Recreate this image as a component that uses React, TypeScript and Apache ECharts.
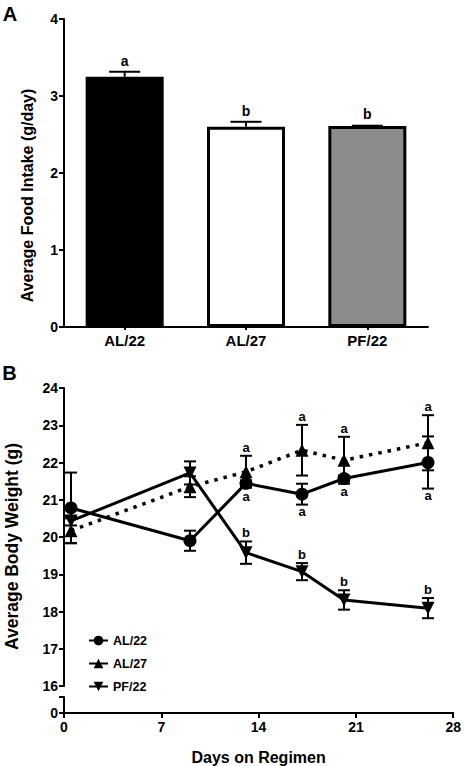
import React, { useEffect, useRef } from 'react';
import * as echarts from 'echarts';

// ---- Panel A data ----
const groups = ['AL/22', 'AL/27', 'PF/22'];
const foodMean = [3.25, 2.6, 2.61];
const foodSem = [0.065, 0.065, 0.004];
const foodLetters = ['a', 'b', 'b'];
const barFill = ['#000000', '#ffffff', '#8c8c8c'];

// ---- Panel B data ----
const days = [0.5, 9, 13, 17, 20, 26];
const al22Mean = [20.78, 19.9, 21.44, 21.15, 21.57, 22.0];
const al22Sem = [0.95, 0.27, 0.08, 0.28, 0.08, 0.7];
const al22Letters = ['', '', 'a', 'a', 'a', 'a'];
const al27Mean = [20.17, 21.35, 21.75, 22.33, 22.06, 22.53];
const al27Sem = [0.33, 0.28, 0.43, 0.68, 0.63, 0.74];
const al27Letters = ['', '', 'a', 'a', 'a', 'a'];
const pf22Mean = [20.43, 21.72, 19.58, 19.07, 18.31, 18.09];
const pf22Sem = [0.12, 0.31, 0.3, 0.23, 0.26, 0.27];
const pf22Letters = ['', '', 'b', 'b', 'b', 'b'];

const FONT = '"Liberation Sans", Arial, Helvetica, sans-serif';

function textEl(text: string, x: number, y: number, size: number, va: string) {
  return {
    type: 'text',
    x,
    y,
    style: {
      text,
      fill: '#000',
      fontSize: size,
      fontWeight: 'bold',
      fontFamily: FONT,
      align: 'center',
      verticalAlign: va,
      textAlign: 'center',
      textVerticalAlign: va,
    },
  };
}

function titleEl(text: string, x: number, y: number, size: number, rotation: number) {
  return {
    type: 'text',
    x,
    y,
    rotation,
    style: {
      text,
      fill: '#000',
      fontSize: size,
      fontWeight: 'bold',
      fontFamily: FONT,
      align: 'center',
      verticalAlign: 'middle',
      textAlign: 'center',
      textVerticalAlign: 'middle',
    },
  };
}

function errSeriesB(mean: number[], sem: number[], letters: string[], pos: 'above' | 'below') {
  return {
    type: 'custom',
    xAxisIndex: 1,
    yAxisIndex: 1,
    z: 1,
    silent: true,
    data: days.map((d, i) => [d, mean[i], sem[i]]),
    encode: { x: 0, y: 1 },
    renderItem: (params: any, api: any) => {
      const x = api.value(0);
      const m = api.value(1);
      const s = api.value(2);
      const c = api.coord([x, m]);
      const hi = api.coord([x, m + s]);
      const lo = api.coord([x, m - s]);
      const cw = 6;
      const st = { stroke: '#000', lineWidth: 2 };
      const children: any[] = [
        { type: 'line', shape: { x1: c[0], y1: hi[1], x2: c[0], y2: lo[1] }, style: st },
        { type: 'line', shape: { x1: c[0] - cw, y1: hi[1], x2: c[0] + cw, y2: hi[1] }, style: st },
        { type: 'line', shape: { x1: c[0] - cw, y1: lo[1], x2: c[0] + cw, y2: lo[1] }, style: st },
      ];
      const t = letters[params.dataIndex];
      if (t) {
        if (pos === 'above') {
          children.push(textEl(t, c[0], Math.min(hi[1], c[1] - 6.5) - 2, 13, 'bottom'));
        } else {
          children.push(textEl(t, c[0], Math.max(lo[1], c[1] + 6.5), 13, 'top'));
        }
      }
      return { type: 'group', children };
    },
  };
}

const axisLineStyle = { color: '#000', width: 2 };
const labelStyle = (size: number) => ({
  color: '#000',
  fontWeight: 'bold',
  fontSize: size,
  fontFamily: FONT,
});

export default function App() {
  const ref = useRef<HTMLDivElement>(null);

  useEffect(() => {
    document.body.style.margin = '0';
    if (!ref.current) return;
    const chart = echarts.init(ref.current, undefined, { renderer: 'svg' });

    const option: any = {
      animation: false,
      backgroundColor: '#fff',
      textStyle: { fontFamily: FONT, fontWeight: 'bold', color: '#000' },
      grid: [
        { left: 64, top: 19, width: 364, height: 308 },
        { left: 64, top: 388, width: 392, height: 298 },
        { left: 64, top: 697, width: 392, height: 16 },
      ],
      xAxis: [
        {
          gridIndex: 0,
          type: 'category',
          data: groups,
          axisLine: { show: true, lineStyle: axisLineStyle },
          axisTick: { show: true, alignWithLabel: true, length: 3, lineStyle: axisLineStyle },
          axisLabel: { ...labelStyle(15), margin: 6 },
          splitLine: { show: false },
        },
        {
          gridIndex: 1,
          type: 'value',
          min: 0,
          max: 28,
          interval: 7,
          show: false,
        },
        {
          gridIndex: 2,
          type: 'value',
          min: 0,
          max: 28,
          interval: 7,
          axisLine: { show: true, onZero: false, lineStyle: axisLineStyle },
          axisTick: { show: true, length: 5, lineStyle: axisLineStyle },
          axisLabel: { ...labelStyle(14), margin: 7 },
          splitLine: { show: false },
          name: 'Days on Regimen',
          nameLocation: 'middle',
          nameGap: 36,
          nameTextStyle: labelStyle(16),
        },
      ],
      yAxis: [
        {
          gridIndex: 0,
          type: 'value',
          min: 0,
          max: 4,
          interval: 1,
          axisLine: { show: true, onZero: false, lineStyle: axisLineStyle },
          axisTick: { show: true, length: 5, lineStyle: axisLineStyle },
          axisLabel: { ...labelStyle(14), margin: 6 },
          splitLine: { show: false },
        },
        {
          gridIndex: 1,
          type: 'value',
          min: 16,
          max: 24,
          interval: 1,
          axisLine: { show: true, onZero: false, lineStyle: axisLineStyle },
          axisTick: { show: true, length: 5, lineStyle: axisLineStyle },
          axisLabel: { ...labelStyle(14), margin: 6 },
          splitLine: { show: false },
        },
        {
          gridIndex: 2,
          type: 'value',
          min: 0,
          max: 1,
          interval: 1,
          axisLine: { show: true, onZero: false, lineStyle: axisLineStyle },
          axisTick: { show: true, length: 5, lineStyle: axisLineStyle },
          axisLabel: {
            ...labelStyle(14),
            margin: 6,
            formatter: (v: number) => (v === 0 ? '0' : ''),
          },
          splitLine: { show: false },
        },
      ],
      legend: {
        orient: 'vertical',
        left: 88,
        top: 634,
        padding: 0,
        itemWidth: 19,
        itemHeight: 12,
        itemGap: 10,
        selectedMode: false,
        textStyle: { ...labelStyle(12.5), padding: [0, 0, 0, 0] },
        lineStyle: { type: 'solid' },
        data: ['AL/22', 'AL/27', 'PF/22'],
      },
      graphic: [
        titleEl('A', 10, 13.5, 20, 0),
        titleEl('B', 9.5, 373, 20, 0),
        titleEl('Average Food Intake (g/day)', 27.5, 195.5, 16, Math.PI / 2),
        titleEl('Average Body Weight (g)', 11.5, 546.5, 17.5, Math.PI / 2),
      ],
      series: [
        {
          type: 'bar',
          xAxisIndex: 0,
          yAxisIndex: 0,
          barWidth: 78,
          data: foodMean.map((v, i) => ({
            value: v,
            itemStyle: { color: barFill[i], borderColor: '#000', borderWidth: 3 },
          })),
          z: 2,
        },
        {
          type: 'custom',
          xAxisIndex: 0,
          yAxisIndex: 0,
          z: 1,
          silent: true,
          data: foodMean.map((v, i) => [i, v, foodSem[i]]),
          encode: { x: 0, y: 1 },
          renderItem: (params: any, api: any) => {
            const x = api.value(0);
            const m = api.value(1);
            const s = api.value(2);
            const c = api.coord([x, m]);
            const hi = api.coord([x, m + s]);
            const cw = 15.5;
            const st = { stroke: '#000', lineWidth: 2 };
            return {
              type: 'group',
              children: [
                { type: 'line', shape: { x1: c[0], y1: hi[1], x2: c[0], y2: c[1] }, style: st },
                { type: 'line', shape: { x1: c[0] - cw, y1: hi[1], x2: c[0] + cw, y2: hi[1] }, style: st },
                textEl(foodLetters[params.dataIndex], c[0], Math.min(hi[1], c[1] - 1.5) - 4, 14, 'bottom'),
              ],
            };
          },
        },
        errSeriesB(al22Mean, al22Sem, al22Letters, 'below'),
        errSeriesB(al27Mean, al27Sem, al27Letters, 'above'),
        errSeriesB(pf22Mean, pf22Sem, pf22Letters, 'above'),
        {
          name: 'AL/22',
          type: 'line',
          xAxisIndex: 1,
          yAxisIndex: 1,
          z: 3,
          data: days.map((d, i) => [d, al22Mean[i]]),
          symbol: 'circle',
          symbolSize: 13,
          itemStyle: { color: '#000' },
          lineStyle: { color: '#000', width: 3 },
        },
        {
          name: 'AL/27',
          type: 'line',
          xAxisIndex: 1,
          yAxisIndex: 1,
          z: 3,
          data: days.map((d, i) => [d, al27Mean[i]]),
          symbol: 'triangle',
          symbolSize: 13,
          itemStyle: { color: '#000' },
          lineStyle: { color: '#000', width: 3.5, type: [3.5, 6] },
        },
        {
          name: 'PF/22',
          type: 'line',
          xAxisIndex: 1,
          yAxisIndex: 1,
          z: 3,
          data: days.map((d, i) => [d, pf22Mean[i]]),
          symbol: 'triangle',
          symbolRotate: 180,
          symbolSize: 13,
          itemStyle: { color: '#000' },
          lineStyle: { color: '#000', width: 3 },
        },
      ],
    };

    chart.setOption(option);
    return () => chart.dispose();
  }, []);

  return <div ref={ref} style={{ width: 464, height: 766 }} />;
}
